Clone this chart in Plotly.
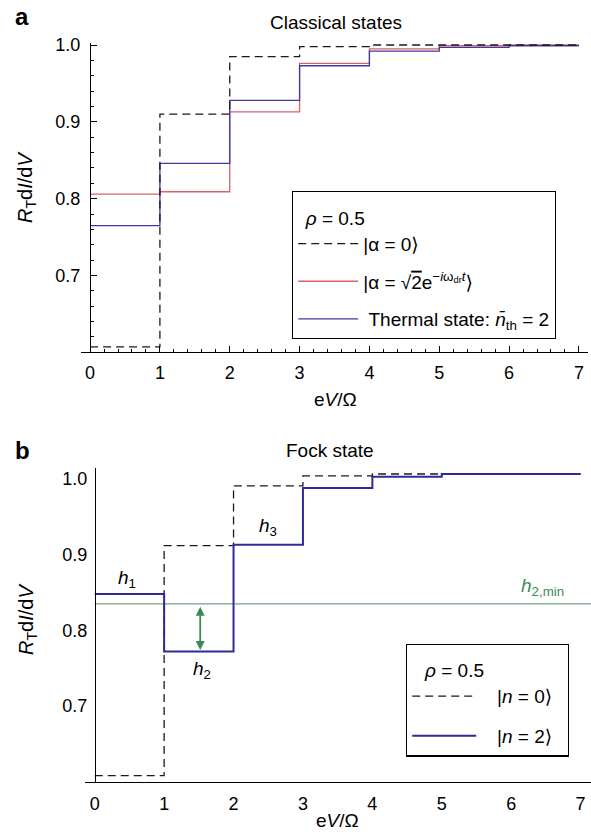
import plotly.graph_objects as go

# ---------------- data ----------------
ev_steps = [0, 1, 2, 3, 4, 5, 6, 7]

# panel a: classical states (value on each interval [k, k+1])
alpha0_a = [0.607, 0.910, 0.985, 0.998, 1.000, 1.000, 1.000]
coherent_a = [0.806, 0.809, 0.913, 0.976, 0.995, 0.999, 1.000]
thermal_a = [0.765, 0.846, 0.928, 0.973, 0.992, 0.997, 0.999]

# panel b: Fock states
n0_b = [0.608, 0.912, 0.991, 1.004, 1.0066, 1.0066, 1.0066]
n2_b = [0.848, 0.772, 0.913, 0.988, 1.003, 1.0066, 1.0066]
h2_min = 0.835

x_ticks = [0, 1, 2, 3, 4, 5, 6, 7]
y_ticks = [0.7, 0.8, 0.9, 1.0]
y_ticklabels = ["0.7", "0.8", "0.9", "1.0"]

W, H = 591, 832
FONT = "Liberation Sans, Arial, Helvetica, DejaVu Sans, sans-serif"
RED = "#d8606a"
BLUE_A = "#3d3aa0"
BLUE_B = "#2e2a9c"
GREEN = "#6fa57f"
GREEN_D = "#3d8a55"
KET = "<span style='font-family:DejaVu Sans'>⟩</span>"
NB = "\u00a0"
TXT = 19
TICK = 18


def steps(v):
    return v + [v[-1]]


fig = go.Figure()

# ---- panel a ----
fig.add_trace(go.Scatter(x=ev_steps, y=steps(coherent_a), mode="lines", line_shape="hv",
                         line=dict(color=RED, width=1.3), xaxis="x", yaxis="y",
                         name="|α = √<span style='text-decoration:overline'>2</span>e<sup>−<i>i</i>ω<sub>dr</sub><i>t</i></sup>" + KET,
                         legend="legend", legendgroup="a2", legendrank=2))
fig.add_trace(go.Scatter(x=ev_steps, y=steps(thermal_a), mode="lines", line_shape="hv",
                         line=dict(color=BLUE_A, width=1.3), xaxis="x", yaxis="y",
                         name=NB + "Thermal state: <i>n̄</i><sub>th</sub> = 2",
                         legend="legend", legendgroup="a3", legendrank=3))
fig.add_trace(go.Scatter(x=ev_steps, y=steps(alpha0_a), mode="lines", line_shape="hv",
                         line=dict(color="#1a1a1a", width=1.3, dash="8px,5px"), xaxis="x", yaxis="y",
                         name="|α = 0" + KET, legend="legend", legendgroup="a1", legendrank=1))

# ---- panel b ----
fig.add_trace(go.Scatter(x=[0, 7.15], y=[h2_min, h2_min], mode="lines",
                         line=dict(color=GREEN, width=1.4), xaxis="x2", yaxis="y2",
                         showlegend=False, hoverinfo="skip"))
fig.add_trace(go.Scatter(x=ev_steps, y=steps(n0_b), mode="lines", line_shape="hv",
                         line=dict(color="#1a1a1a", width=1.3, dash="8px,5px"), xaxis="x2", yaxis="y2",
                         name=NB * 3 + "|<i>n</i> = 0" + KET + NB * 2,
                         legend="legend2", legendgroup="b1", legendrank=1))
fig.add_trace(go.Scatter(x=ev_steps, y=steps(n2_b), mode="lines", line_shape="hv",
                         line=dict(color=BLUE_B, width=2.0), xaxis="x2", yaxis="y2",
                         name=NB * 3 + "|<i>n</i> = 2" + KET + NB * 2,
                         legend="legend2", legendgroup="b2", legendrank=2))

tickfont = dict(family=FONT, size=TICK, color="black")


def legend_title(pad):
    return dict(text="<span style='font-size:%dpx'>%s<i>ρ</i> = 0.5</span>" % (TXT, NB * pad),
                font=dict(family=FONT, size=25))


fig.update_layout(
    width=W, height=H,
    margin=dict(l=0, r=0, t=0, b=0, autoexpand=False),
    paper_bgcolor="white", plot_bgcolor="white",
    font=dict(family=FONT, size=TXT, color="black"),
    xaxis=dict(domain=[81 / W, 588 / W], range=[-0.13, 7.13], anchor="y",
               showline=True, linecolor="black", linewidth=1.2,
               ticks="inside", ticklen=6, tickwidth=1, tickcolor="black",
               tickvals=x_ticks, ticktext=[str(v) for v in x_ticks],
               minor=dict(dtick=0.2, tick0=0, ticks="inside", ticklen=3, tickcolor="black", tickwidth=1),
               showgrid=False, zeroline=False, tickfont=tickfont, ticklabelstandoff=4),
    yaxis=dict(domain=[1 - 352.3 / H, 1 - 42.7 / H], range=[0.6, 1.003], anchor="free",
               position=90 / W,
               showline=True, linecolor="black", linewidth=1.2,
               ticks="inside", ticklen=6, tickwidth=1, tickcolor="black",
               tickvals=y_ticks, ticktext=y_ticklabels,
               minor=dict(dtick=0.02, tick0=0.6, ticks="inside", ticklen=3, tickcolor="black", tickwidth=1),
               showgrid=False, zeroline=False, tickfont=tickfont, ticklabelstandoff=6),
    xaxis2=dict(domain=[85 / W, 1.0], range=[-0.14, 7.15], anchor="y2",
                showline=True, linecolor="black", linewidth=1.2, ticks="",
                tickvals=x_ticks, ticktext=[str(v) for v in x_ticks],
                showgrid=False, zeroline=False, tickfont=tickfont, ticklabelstandoff=6),
    yaxis2=dict(domain=[1 - 781.7 / H, 1 - 468 / H], range=[0.6, 1.0145], anchor="free",
                position=95 / W,
                showline=True, linecolor="black", linewidth=1.2, ticks="",
                tickvals=y_ticks, ticktext=y_ticklabels,
                showgrid=False, zeroline=False, tickfont=tickfont, ticklabelstandoff=4),
    legend=dict(x=292 / W, y=1 - 191 / H, xanchor="left", yanchor="top",
                bordercolor="black", borderwidth=1.2, bgcolor="white",
                font=dict(family=FONT, size=TXT, color="black"),
                title=legend_title(2),
                itemwidth=60, tracegroupgap=10, traceorder="grouped"),
    legend2=dict(x=406 / W, y=1 - 643.5 / H, xanchor="left", yanchor="top",
                 bordercolor="black", borderwidth=1.2, bgcolor="white",
                 font=dict(family=FONT, size=TXT, color="black"),
                 title=legend_title(3),
                 itemwidth=64, tracegroupgap=12, traceorder="grouped"),
    showlegend=True,
)


def paper_text(text, px, py, size=TXT, color="black", angle=0):
    return dict(text=text, x=px / W, y=1 - py / H, xref="paper", yref="paper",
                xanchor="center", yanchor="middle", textangle=angle,
                showarrow=False, font=dict(family=FONT, size=size, color=color))


ann = [
    paper_text("<b>a</b>", 22, 17, size=24),
    paper_text("<b>b</b>", 22, 450, size=24),
    paper_text("Classical states", 336, 23),
    paper_text("Fock state", 330, 450),
    paper_text("e<i>V</i>/Ω", 335, 399),
    paper_text("e<i>V</i>/Ω", 337, 820),
    paper_text("<i>R</i><sub>T</sub>d<i>I</i>/d<i>V</i>", 27, 188, size=20, angle=-90),
    paper_text("<i>R</i><sub>T</sub>d<i>I</i>/d<i>V</i>", 27, 620, size=20, angle=-90),
]


def data_text(text, x, y, color="black"):
    return dict(text=text, x=x, y=y, xref="x2", yref="y2", xanchor="center", yanchor="middle",
                showarrow=False, font=dict(family=FONT, size=TXT, color=color))


ann += [
    data_text("<i>h</i><sub>1</sub>", 0.47, 0.868),
    data_text("<i>h</i><sub>2</sub>", 1.55, 0.748),
    data_text("<i>h</i><sub>3</sub>", 2.5, 0.937),
    data_text("<i>h</i><sub>2,min</sub>", 6.45, 0.857, color=GREEN_D),
    # double arrow
    dict(x=1.52, y=0.774, ax=1.52, ay=0.833, xref="x2", yref="y2", axref="x2", ayref="y2",
         text="", showarrow=True, arrowhead=2, startarrowhead=2, arrowside="end+start",
         arrowsize=1, startarrowsize=1, arrowwidth=1.8, arrowcolor=GREEN_D),
]
fig.update_layout(annotations=ann)

fig.write_html("out.html", config={"displayModeBar": False},
               post_script="document.body.style.margin='0';document.body.style.padding='0';")
